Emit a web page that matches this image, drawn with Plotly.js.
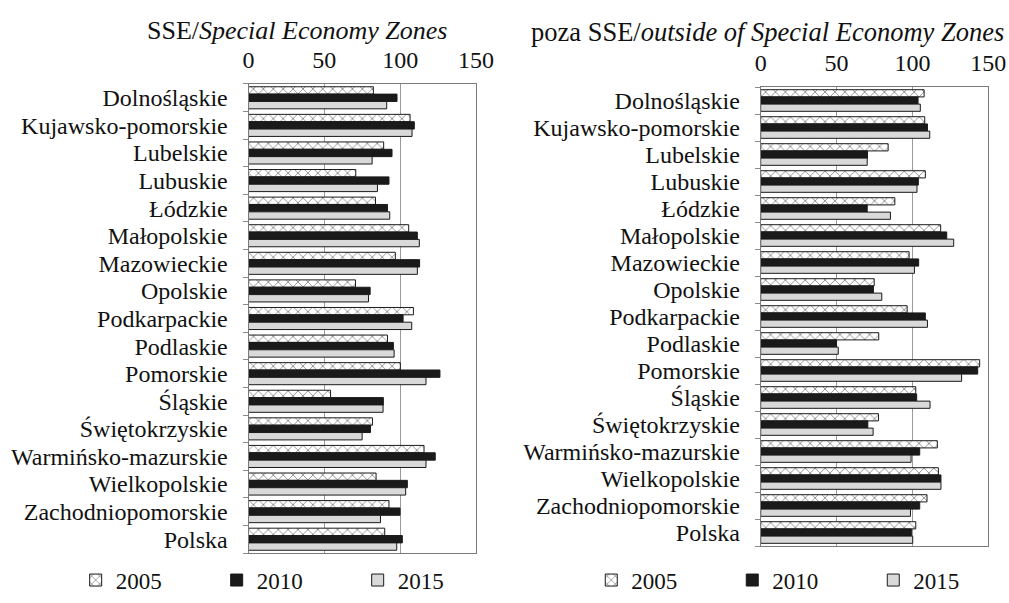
<!DOCTYPE html>
<html>
<head>
<meta charset="utf-8">
<script src="https://cdn.plot.ly/plotly-3.0.1.min.js"></script>
<style>html,body{margin:0;padding:0;background:#fff;}#chart{width:1009px;height:603px;}</style>
</head>
<body>
<div id="chart"></div>
<script>
const regions = ["Dolnośląskie","Kujawsko-pomorskie","Lubelskie","Lubuskie","Łódzkie","Małopolskie","Mazowieckie","Opolskie","Podkarpackie","Podlaskie","Pomorskie","Śląskie","Świętokrzyskie","Warmińsko-mazurskie","Wielkopolskie","Zachodniopomorskie","Polska"];
const years = ["2005","2010","2015"];
const sse2005 = [82.3,106.5,89.1,70.7,83.7,105.6,96.8,70.5,108.7,91.6,100.1,54.1,81.7,115.7,84.1,92.6,89.8];
const sse2010 = [97.9,109.3,94.6,92.6,91.6,111.3,112.8,80.2,101.9,95.5,126.2,88.9,80.4,123.1,104.7,99.9,101.4];
const sse2015 = [91.1,107.8,81.5,85.0,93.1,112.6,111.3,79.1,107.6,96.0,117.0,88.7,74.9,117.0,103.6,87.0,97.7];
const out2005 = [107.7,108.1,84.0,108.5,88.4,118.6,97.8,74.8,96.5,77.8,144.3,102.2,77.6,116.4,117.1,109.6,102.2];
const out2010 = [103.7,109.9,70.4,103.9,70.2,122.6,104.1,74.3,108.5,50.0,143.0,102.8,70.6,104.8,118.8,104.8,99.3];
const out2015 = [105.2,111.4,70.2,103.0,85.5,127.2,101.3,79.8,109.9,51.1,132.4,111.6,74.1,99.1,118.8,98.7,100.2];
const xTicks = [0,50,100,150];
const titleLeft = "SSE/<i>Special Economy Zones</i>";
const titleRight = "poza SSE/<i>outside of Special Economy Zones</i>";

const FONT = "'Liberation Serif', 'Times New Roman', serif";
const line = {color:'#1a1a1a', width:1};
const styles = [
  {color:'#ffffff', line:line, pattern:{shape:'x', fgcolor:'#222', bgcolor:'#ffffff', size:7, solidity:0.25, fillmode:'overlay'}},
  {color:'#1a1a1a', line:line},
  {color:'#d9d9d9', line:line}
];
const legW = [96, 96, 50];
function mk(vals, i, xa, ya, leg){
  return {type:'bar', orientation:'h', y:regions, x:vals, name:years[i],
    xaxis:xa, yaxis:ya, legend:leg, legendwidth:legW[i], marker:styles[i], hoverinfo:'x+y'};
}
const data = [
  mk(sse2005,0,'x','y','legend'), mk(sse2010,1,'x','y','legend'), mk(sse2015,2,'x','y','legend'),
  mk(out2005,0,'x2','y2','legend2'), mk(out2010,1,'x2','y2','legend2'), mk(out2015,2,'x2','y2','legend2')
];
function xax(dom, anchor){
  return {domain:dom, anchor:anchor, side:'top', range:[0,150], tickmode:'array', tickvals:xTicks,
    showgrid:true, gridcolor:'#9a9a9a', gridwidth:1, zeroline:false, automargin:false,
    showline:true, linecolor:'#7a7a7a', mirror:true, ticks:'', ticklabelstandoff:5,
    tickfont:{family:FONT, size:24, color:'#111'}, fixedrange:true};
}
function yax(dom, anchor){
  return {domain:dom, anchor:anchor, type:'category', autorange:'reversed', automargin:false,
    tickmode:'array', tickvals:regions, ticktext:regions,
    showline:true, linecolor:'#7a7a7a', mirror:true, ticks:'outside', tickson:'boundaries',
    ticklen:5, tickcolor:'#8a8a8a', ticklabelstandoff:15, showgrid:false,
    tickfont:{family:FONT, size:24, color:'#111'}, fixedrange:true};
}
const legBase = {orientation:'h', font:{family:FONT, size:23, color:'#111'},
  bgcolor:'rgba(0,0,0,0)', yanchor:'middle', xanchor:'left', itemwidth:30, traceorder:'normal'};
const layout = {
  width:1009, height:603, margin:{l:0,r:0,t:0,b:0,autoexpand:false}, paper_bgcolor:'#fff', plot_bgcolor:'#fff',
  barmode:'group', bargap:0.2, bargroupgap:0,
  xaxis: xax([0.2463,0.4718],'y'),
  yaxis: yax([0.0829,0.8607],'x'),
  xaxis2: xax([0.7539,0.9795],'y2'),
  yaxis2: yax([0.0945,0.8557],'x2'),
  legend: Object.assign({}, legBase, {x:0.075, y:0.038}),
  legend2: Object.assign({}, legBase, {x:0.586, y:0.038}),
  annotations:[
    {text:titleLeft, xref:'paper', yref:'paper', x:0.294, y:0.950, showarrow:false, xanchor:'center', yanchor:'middle', font:{family:FONT, size:26, color:'#111'}},
    {text:titleRight, xref:'paper', yref:'paper', x:0.761, y:0.947, showarrow:false, xanchor:'center', yanchor:'middle', font:{family:FONT, size:26.5, color:'#111'}}
  ],
  showlegend:true
};
Plotly.newPlot('chart', data, layout, {displayModeBar:false, staticPlot:true});
</script>
</body>
</html>
